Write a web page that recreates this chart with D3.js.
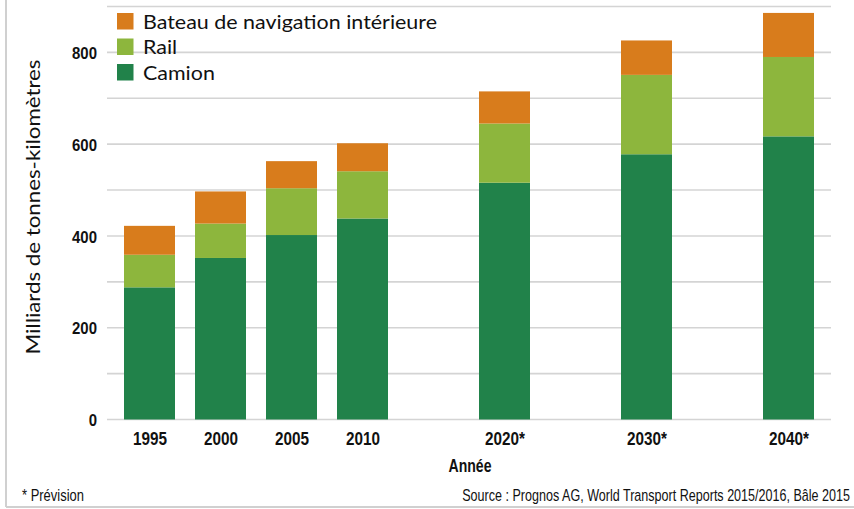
<!DOCTYPE html>
<html><head><meta charset="utf-8">
<script src="https://cdn.jsdelivr.net/npm/d3@7"></script>
<style>
body{margin:0;background:#fff;}
svg{display:block;}
</style></head>
<body>
<svg id="chart" width="854" height="509"></svg>
<script>
const years = [1995, 2000, 2005, 2010, 2020, 2030, 2040];
const yearLabels = ["1995", "2000", "2005", "2010", "2020*", "2030*", "2040*"];
const camion = [288, 352, 402, 438, 516, 578, 617];
const rail = [71, 75, 102, 103, 129, 173, 173];
const bateau = [63, 70, 59, 61, 70, 75, 96];
const seriesNames = ["Camion", "Rail", "Bateau de navigation intérieure"];
const seriesColors = ["#21824a", "#8db63d", "#d87c1c"];
const yTickLabels = [0, 200, 400, 600, 800];
const gridValues = [0, 100, 200, 300, 400, 500, 600, 700, 800, 900];
const yTitle = "Milliards de tonnes-kilomètres";
const xTitle = "Année";
const noteText = "* Prévision";
const sourceText = "Source : Prognos AG, World Transport Reports 2015/2016, Bâle 2015";

const svg = d3.select("#chart");
const sansFont = "'Liberation Sans', Arial, sans-serif";
const regular = "Lato, 'Open Sans', sans-serif";

// compress / stretch text horizontally by a factor
function squeeze(sel, factor) {
  sel.each(function () {
    const w = this.getComputedTextLength();
    d3.select(this).attr("textLength", w * factor).attr("lengthAdjust", "spacingAndGlyphs");
  });
}

const x = d3.scaleLinear().domain([1995, 2040]).range([149.5, 788.5]);
const y = d3.scaleLinear().domain([0, 900]).range([419.5, 6.5]);
const barW = 51;
const plotLeft = 107, plotRight = 831;

// frame
svg.append("line").attr("x1", 6).attr("x2", 6).attr("y1", 0).attr("y2", 507)
  .attr("stroke", "#d0d0d0").attr("stroke-width", 2);
svg.append("line").attr("x1", 6).attr("x2", 854).attr("y1", 507).attr("y2", 507)
  .attr("stroke", "#d0d0d0").attr("stroke-width", 2);

// gridlines
svg.append("g").selectAll("line").data(gridValues).join("line")
  .attr("x1", plotLeft).attr("x2", plotRight)
  .attr("y1", d => y(d)).attr("y2", d => y(d))
  .attr("stroke", "#d4d4d4").attr("stroke-width", 1.6);

// y axis labels
const yAxis = d3.axisLeft(y).tickValues(yTickLabels).tickSize(0).tickPadding(0);
const ya = svg.append("g").attr("transform", "translate(97,0)").call(yAxis);
ya.select(".domain").remove();
ya.selectAll("text").attr("font-family", sansFont).attr("font-weight", "bold")
  .attr("font-size", 17).attr("fill", "#111").attr("dy", "0.36em").call(squeeze, 0.88);

// stacked bars
const rows = years.map((yr, i) => ({year: yr, Camion: camion[i], Rail: rail[i], "Bateau de navigation intérieure": bateau[i]}));
const stack = d3.stack().keys(seriesNames)(rows);
svg.append("g").selectAll("g").data(stack).join("g")
  .attr("fill", (d, i) => seriesColors[i])
  .selectAll("rect").data(d => d).join("rect")
  .attr("x", d => x(d.data.year) - barW / 2)
  .attr("width", barW)
  .attr("y", d => y(d[1]))
  .attr("height", d => y(d[0]) - y(d[1]));

// x axis labels
const xAxis = d3.axisBottom(x).tickValues(years).tickSize(0).tickPadding(0)
  .tickFormat((d, i) => yearLabels[i]);
const xa = svg.append("g").attr("transform", "translate(0,432)").call(xAxis);
xa.select(".domain").remove();
xa.selectAll("text").attr("font-family", sansFont).attr("font-weight", "bold")
  .attr("font-size", 18).attr("fill", "#111").attr("dy", "0.71em").call(squeeze, 0.85);

// axis titles
svg.append("text").attr("x", 470).attr("y", 472).attr("text-anchor", "middle")
  .attr("font-family", sansFont).attr("font-weight", "bold").attr("font-size", 18)
  .attr("fill", "#111").text(xTitle)
  .attr("textLength", 43).attr("lengthAdjust", "spacingAndGlyphs");
const yt = svg.append("text").attr("transform", "translate(40,207) rotate(-90)")
  .attr("text-anchor", "middle").attr("font-family", regular).attr("font-size", 19)
  .attr("fill", "#111").text(yTitle);
yt.attr("textLength", 295).attr("lengthAdjust", "spacingAndGlyphs");

// legend
const legendOrder = [2, 1, 0];
const lg = svg.append("g").selectAll("g").data(legendOrder).join("g")
  .attr("transform", (d, i) => `translate(117,${13 + i * 25.5})`);
lg.append("rect").attr("width", 16.5).attr("height", 16.5).attr("fill", d => seriesColors[d]);
const lt = lg.append("text").attr("x", 26).attr("y", 15.5).attr("font-family", regular)
  .attr("font-size", 20).attr("fill", "#111").text(d => seriesNames[d]);
const longest = lt.filter(d => d === 2).node().getComputedTextLength();
lt.call(squeeze, 294 / longest);

// footer (horizontally condensed via transform)
const note = svg.append("text").attr("font-family", sansFont)
  .attr("font-size", 16).attr("fill", "#111").text(noteText);
const noteW = note.node().getComputedTextLength();
note.attr("transform", `translate(22,501) scale(${62 / noteW},1)`);
const src = svg.append("text").attr("text-anchor", "end")
  .attr("font-family", sansFont).attr("font-size", 16).attr("fill", "#111").text(sourceText);
const srcW = src.node().getComputedTextLength();
src.attr("transform", `translate(850,501) scale(${388 / srcW},1)`);
</script>
</body></html>
